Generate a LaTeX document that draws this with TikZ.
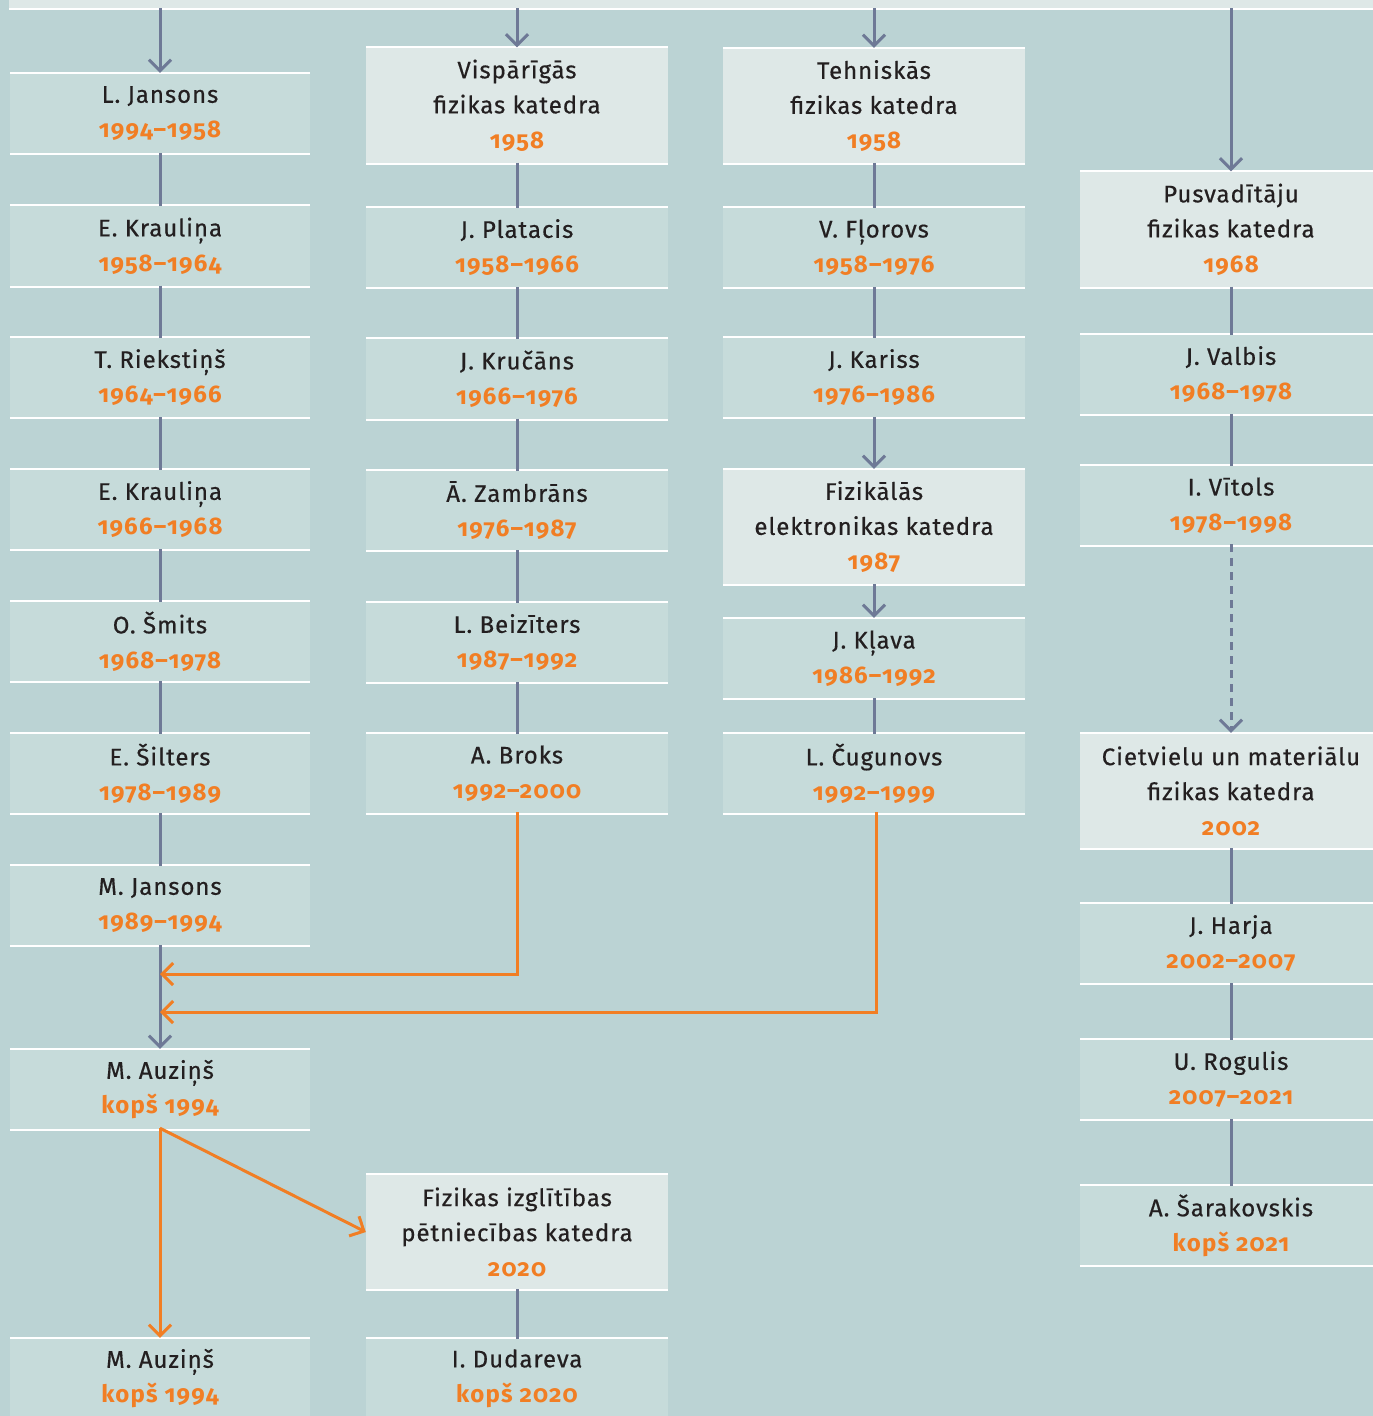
\documentclass[tikz,border=0pt]{standalone}
\usepackage{fontspec}
\setmainfont{Fira Sans}[LetterSpace=4, FakeBold=0.5]
\newfontfamily\yrfont{Fira Sans}[RawFeature=+onum, LetterSpace=5]
\usetikzlibrary{arrows.meta,calc}
\definecolor{bg}{RGB}{187,211,212}
\definecolor{pbox}{RGB}{198,219,218}
\definecolor{dbox}{RGB}{222,232,231}
\definecolor{lin}{RGB}{110,121,150}
\definecolor{org}{RGB}{241,126,36}
\definecolor{txt}{RGB}{35,31,32}
\newcommand{\yr}[1]{{\color{org}\yrfont\bfseries #1}}
\tikzset{
  base/.style={minimum width=302pt, minimum height=81pt, inner sep=0pt, align=center, text=txt, font=\fontsize{24}{35}\selectfont},
  person/.style={base, fill=pbox},
  dept/.style={base, fill=dbox, minimum height=116pt},
  conn/.style={draw=lin, line width=3pt},
  garr/.style={conn, -{Straight Barb[length=11pt,width=22pt]}},
  gdash/.style={garr, dash pattern=on 8pt off 6pt},
  oarr/.style={draw=org, line width=3pt, -{Straight Barb[length=11pt,width=22pt]}},
}
\begin{document}
\begin{tikzpicture}[x=1pt,y=-1pt]
\useasboundingbox (0,0) rectangle (1373,1416);
\clip (0,0) rectangle (1373,1416);
\fill[bg] (0,0) rectangle (1373,1416);
\node[dept, anchor=south west, minimum width=1400pt, minimum height=40pt] (top) at (9,9) {};
% column 1
\node[person, minimum width=300pt] (c1a) at (160,113.5) {L. Jansons\\\yr{1994–1958}};
\node[person, minimum width=300pt] (c1b) at (160,246) {E. Krauliņa\\\yr{1958–1964}};
\node[person, minimum width=300pt] (c1c) at (160,377.5) {T. Riekstiņš\\\yr{1964–1966}};
\node[person, minimum width=300pt] (c1d) at (160,509.5) {E. Krauliņa\\\yr{1966–1968}};
\node[person, minimum width=300pt] (c1e) at (160,641.5) {O. Šmits\\\yr{1968–1978}};
\node[person, minimum width=300pt] (c1f) at (160,773.5) {E. Šilters\\\yr{1978–1989}};
\node[person, minimum width=300pt] (c1g) at (160,905.5) {M. Jansons\\\yr{1989–1994}};
\node[person, minimum width=300pt] (c1h) at (160,1089.5) {M. Auziņš\\\yr{kopš 1994}};
\node[person, minimum width=300pt] (c1i) at (160,1378.5) {M. Auziņš\\\yr{kopš 1994}};
% column 2
\node[dept] (c2a) at (517,105.5) {Vispārīgās\\fizikas katedra\\\yr{1958}};
\node[person] (c2b) at (517,247.5) {J. Platacis\\\yr{1958–1966}};
\node[person] (c2c) at (517,379) {J. Kručāns\\\yr{1966–1976}};
\node[person] (c2d) at (517,510.5) {Ā. Zambrāns\\\yr{1976–1987}};
\node[person] (c2e) at (517,642.5) {L. Beizīters\\\yr{1987–1992}};
\node[person] (c2f) at (517,773.5) {A. Broks\\\yr{1992–2000}};
\node[dept] (c2g) at (517,1232) {Fizikas izglītības\\pētniecības katedra\\\yr{2020}};
\node[person] (c2h) at (517,1378.5) {I. Dudareva\\\yr{kopš 2020}};
% column 3
\node[dept] (c3a) at (874,106) {Tehniskās\\fizikas katedra\\\yr{1958}};
\node[person] (c3b) at (874,247.5) {V. Fļorovs\\\yr{1958–1976}};
\node[person] (c3c) at (874,377.5) {J. Kariss\\\yr{1976–1986}};
\node[dept] (c3d) at (874,527) {Fizikālās\\elektronikas katedra\\\yr{1987}};
\node[person] (c3e) at (874,658.5) {J. Kļava\\\yr{1986–1992}};
\node[person] (c3f) at (874,773.5) {L. Čugunovs\\\yr{1992–1999}};
% column 4
\node[dept] (c4a) at (1231,229.5) {Pusvadītāju\\fizikas katedra\\\yr{1968}};
\node[person] (c4b) at (1231,374.5) {J. Valbis\\\yr{1968–1978}};
\node[person] (c4c) at (1231,505.5) {I. Vītols\\\yr{1978–1998}};
\node[dept] (c4d) at (1231,791) {Cietvielu un materiālu\\fizikas katedra\\\yr{2002}};
\node[person] (c4e) at (1231,943.5) {J. Harja\\\yr{2002–2007}};
\node[person] (c4f) at (1231,1079.5) {U. Rogulis\\\yr{2007–2021}};
\node[person] (c4g) at (1231,1225.5) {A. Šarakovskis\\\yr{kopš 2021}};
% white edges
\foreach \n in {top,c1a,c1b,c1c,c1d,c1e,c1f,c1g,c1h,c1i,c2a,c2b,c2c,c2d,c2e,c2f,c2g,c2h,c3a,c3b,c3c,c3d,c3e,c3f,c4a,c4b,c4c,c4d,c4e,c4f,c4g}
  \draw[white, line width=2pt] (\n.north west) -- (\n.north east) (\n.south west) -- (\n.south east);
% top arrows
\foreach \n in {c1a,c2a,c3a,c4a}
  \draw[garr] ([yshift=1pt]top.south -| \n.north) -- (\n.north);
% plain links
\foreach \a/\b in {c1a/c1b,c1b/c1c,c1c/c1d,c1d/c1e,c1e/c1f,c1f/c1g,
  c2a/c2b,c2b/c2c,c2c/c2d,c2d/c2e,c2e/c2f,c2g/c2h,
  c3a/c3b,c3b/c3c,c3e/c3f,
  c4a/c4b,c4b/c4c,c4d/c4e,c4e/c4f,c4f/c4g}
  \draw[conn] ([yshift=1pt]\a.south) -- ([yshift=-1pt]\b.north);
\draw[garr] ([yshift=1pt]c1g.south) -- (c1h.north);
\draw[garr] ([yshift=1pt]c3c.south) -- (c3d.north);
\draw[garr] ([yshift=1pt]c3d.south) -- (c3e.north);
\draw[gdash] ([yshift=2pt]c4c.south) -- (c4d.north);
% orange links
\coordinate (j1) at (160,974);
\coordinate (j2) at (160,1012);
\draw[oarr] ([yshift=2pt]c2f.south) |- (j1);
\draw[oarr] ([xshift=2pt,yshift=2pt]c3f.south) |- (j2);
\draw[oarr] ([yshift=2pt]c1h.south) -- (c1i.north);
\draw[oarr] ([yshift=2pt]c1h.south) -- (c2g.west);
\end{tikzpicture}
\end{document}
